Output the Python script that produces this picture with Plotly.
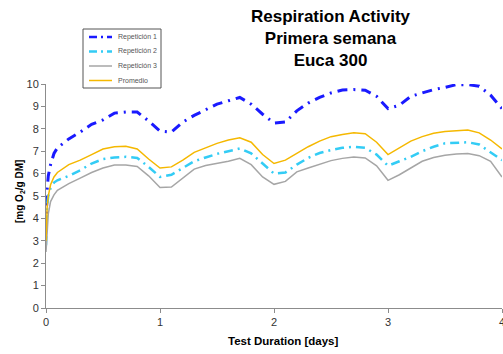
import plotly.graph_objects as go

days = [0, 0.01, 0.02, 0.04, 0.07, 0.1, 0.2, 0.3, 0.4, 0.5, 0.6, 0.7, 0.8, 0.9,
        1.0, 1.1, 1.2, 1.3, 1.4, 1.5, 1.6, 1.7, 1.8, 1.9,
        2.0, 2.1, 2.2, 2.3, 2.4, 2.5, 2.6, 2.7, 2.8, 2.9,
        3.0, 3.1, 3.2, 3.3, 3.4, 3.5, 3.6, 3.7, 3.8, 3.9, 4.0]

rep1 = [3.5, 5.3, 5.9, 6.4, 6.9, 7.15, 7.55, 7.85, 8.2, 8.4, 8.7, 8.75, 8.75, 8.35,
        7.9, 7.85, 8.3, 8.6, 8.85, 9.1, 9.25, 9.4, 9.1, 8.65,
        8.26, 8.3, 8.8, 9.15, 9.4, 9.6, 9.73, 9.75, 9.72, 9.45,
        8.9, 9.05, 9.45, 9.6, 9.75, 9.85, 9.97, 9.97, 9.9, 9.5, 8.9]

rep2 = [2.8, 4.6, 5.0, 5.35, 5.6, 5.7, 5.9, 6.15, 6.45, 6.65, 6.72, 6.75, 6.7, 6.3,
        5.85, 5.95, 6.25, 6.55, 6.72, 6.88, 7.0, 7.12, 6.9, 6.47,
        6.0, 6.05, 6.4, 6.7, 6.92, 7.05, 7.15, 7.2, 7.15, 6.85,
        6.35, 6.55, 6.75, 7.0, 7.2, 7.35, 7.38, 7.4, 7.3, 6.95, 6.6]

rep3 = [2.5, 3.7, 4.2, 4.75, 5.05, 5.25, 5.55, 5.8, 6.05, 6.25, 6.38, 6.38, 6.32, 5.9,
        5.38, 5.4, 5.8, 6.2, 6.36, 6.45, 6.55, 6.68, 6.4, 5.85,
        5.52, 5.65, 6.08, 6.25, 6.4, 6.58, 6.68, 6.74, 6.7, 6.35,
        5.7, 5.95, 6.25, 6.55, 6.72, 6.82, 6.88, 6.9, 6.8, 6.55, 5.85]

promedio = [3.0, 4.5, 5.0, 5.5, 5.85, 6.05, 6.4, 6.6, 6.85, 7.1, 7.2, 7.22, 7.1, 6.65,
            6.25, 6.3, 6.6, 6.95, 7.15, 7.35, 7.5, 7.6, 7.4, 6.85,
            6.45, 6.6, 6.9, 7.2, 7.45, 7.65, 7.75, 7.82, 7.78, 7.4,
            6.85, 7.15, 7.45, 7.65, 7.8, 7.88, 7.92, 7.95, 7.82, 7.5, 7.1]

series_names = ["Repetición 1", "Repetición 2", "Repetición 3", "Promedio"]
x_ticks = [0, 1, 2, 3, 4]
y_ticks = [0, 1, 2, 3, 4, 5, 6, 7, 8, 9, 10]

FONT = "Liberation Sans, Arial"
styles = [
    dict(color="#1a1aff", width=3, dash="10px,6px,2px,6px"),
    dict(color="#33ccf5", width=2.5, dash="9px,5px,2px,5px"),
    dict(color="#a6a6a6", width=1.5),
    dict(color="#f5b800", width=1.5),
]

fig = go.Figure()
for name, vals, st in zip(series_names, [rep1, rep2, rep3, promedio], styles):
    fig.add_trace(go.Scatter(x=days, y=vals, mode="lines", name=name, line=st,
                             showlegend=False))

axis_common = dict(showgrid=False, zeroline=False, showline=True, linecolor="#8c8c8c",
                   linewidth=1, ticks="outside", ticklen=4, tickcolor="#8c8c8c",
                   automargin=False,
                   tickfont=dict(family=FONT, size=11, color="#333333"))

# plot area in pixels: x 46..502, y 84..308
L, R, T, B = 46, 502, 84, 308
W, H = R - L, B - T


def px(x):
    return (x - L) / W


def py(y):
    return (B - y) / H


shapes = []
annotations = []
# manual legend box
shapes.append(dict(type="rect", xref="paper", yref="paper",
                   x0=px(83), x1=px(161), y0=py(88), y1=py(29),
                   line=dict(color="#555555", width=1), fillcolor="white", layer="above"))
for i, (name, st) in enumerate(zip(series_names, styles)):
    yy = 37 + i * 14.5
    sample = dict(st)
    if "dash" in sample:
        sample["dash"] = "8px,4px,2px,4px"
    sample["width"] = min(st["width"], 2.5)
    shapes.append(dict(type="line", xref="paper", yref="paper",
                       x0=px(89), x1=px(112), y0=py(yy), y1=py(yy), line=sample, layer="above"))
    annotations.append(dict(text=name, xref="paper", yref="paper", x=px(116), y=py(yy),
                            xanchor="left", yanchor="middle", showarrow=False,
                            font=dict(family=FONT, size=7, color="#555555")))

annotations += [
    dict(text="<b>Respiration Activity<br>Primera semana<br>Euca 300</b>",
         xref="paper", yref="paper", x=px(331), y=py(39),
         xanchor="center", yanchor="middle", showarrow=False, align="center",
         font=dict(family=FONT, size=17, color="black")),
    dict(text="<b>Test Duration [days]</b>", xref="paper", yref="paper",
         x=px(283), y=py(341), xanchor="center", yanchor="middle",
         showarrow=False, font=dict(family=FONT, size=11.5, color="black")),
    dict(text="<b>[mg O<sub>2</sub>/g DM]</b>", xref="paper", yref="paper",
         x=px(20), y=py(192), xanchor="center", yanchor="middle",
         textangle=-90, showarrow=False,
         font=dict(family=FONT, size=10, color="black")),
    # last x tick label, partly cut by the right edge as in the original
    dict(text=str(x_ticks[-1]), xref="x", yref="paper", x=x_ticks[-1], y=py(322),
         xanchor="center", yanchor="middle", showarrow=False,
         font=dict(family=FONT, size=11, color="#333333")),
]

fig.update_layout(
    width=503, height=354,
    margin=dict(l=L, r=503 - R, t=T, b=354 - B, autoexpand=False),
    paper_bgcolor="white", plot_bgcolor="white",
    xaxis=dict(range=[0, 4], tickvals=x_ticks, ticktext=[str(v) for v in x_ticks[:-1]] + [""],
               **axis_common),
    yaxis=dict(range=[0, 10], tickvals=y_ticks, **axis_common),
    showlegend=False,
    shapes=shapes,
    annotations=annotations,
)

fig.write_html("out.html", config={"displayModeBar": False},
               post_script="document.body.style.margin='0px';document.body.style.overflow='hidden';")
